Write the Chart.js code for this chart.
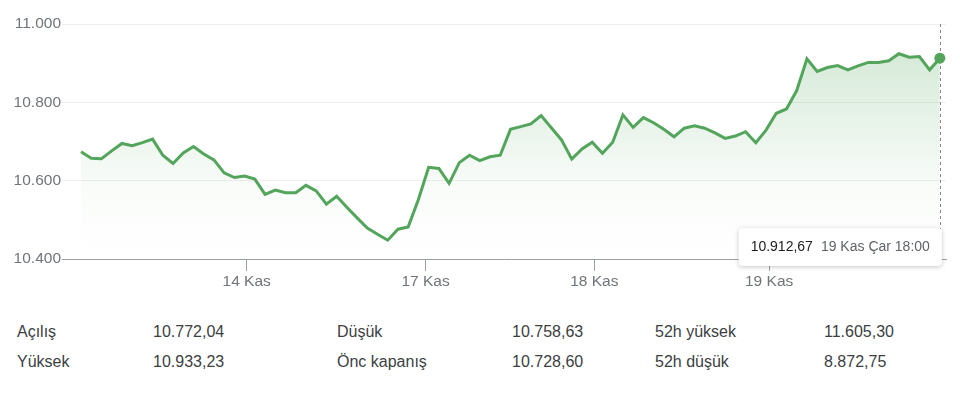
<!DOCTYPE html>
<html lang="tr">
<head>
<meta charset="utf-8">
<script src="https://cdn.jsdelivr.net/npm/chart.js@4.4.1/dist/chart.umd.min.js"></script>
<style>
  body { margin: 0; background: #fff; font-family: "Liberation Sans", Arial, Helvetica, sans-serif; }
  #wrap { position: absolute; left: 0; top: 0; width: 960px; height: 300px; }
  .cell { position: absolute; font-size: 16px; line-height: 20px; color: #3c4043; white-space: nowrap; }
</style>
</head>
<body>
<div id="wrap"><canvas id="chart"></canvas></div>
<div id="stats"></div>
<script>
// hourly closes, 13-19 Kas
const prices = [
  10674, 10657, 10656, 10676, 10695, 10689, 10697, 10706, 10665, 10644,
  10671, 10687, 10668, 10653, 10620, 10608, 10612, 10604, 10565, 10576,
  10569, 10569, 10588, 10574, 10540, 10560, 10532, 10505, 10479, 10463,
  10448, 10476, 10482, 10552, 10634, 10631, 10593, 10646, 10665, 10651,
  10661, 10665, 10731, 10738, 10745, 10766, 10735, 10704, 10655, 10681,
  10698, 10670, 10698, 10768, 10736, 10761, 10748, 10731, 10712, 10734,
  10740, 10734, 10722, 10708, 10714, 10725, 10697, 10729, 10772, 10783,
  10830, 10911, 10879, 10889, 10894, 10883, 10893, 10902, 10902, 10906,
  10924, 10915, 10917, 10883, 10912.67
];
const dayLabels = ['14 Kas', '17 Kas', '18 Kas', '19 Kas'];
const dayTickPos = [16.2, 33.7, 50.2, 67.3];
const yTicks = [10400, 10600, 10800, 11000];
const lastLabel = '19 Kas Çar 18:00';

const statLabels = [['Açılış', 'Yüksek'], ['Düşük', 'Önc kapanış'], ['52h yüksek', '52h düşük']];
const statValues = [['10.772,04', '10.933,23'], ['10.758,63', '10.728,60'], ['11.605,30', '8.872,75']];

const green = '#52a55b';
const font = '"Liberation Sans", Arial, Helvetica, sans-serif';

function fmt(v, dec) {
  const parts = v.toFixed(dec).split('.');
  parts[0] = parts[0].replace(/\B(?=(\d{3})+(?!\d))/g, '.');
  return parts.join(',');
}

// dashed marker line behind the last point, tooltip box on top
const endMarker = {
  id: 'endMarker',
  beforeDatasetsDraw(chart) {
    const {ctx, chartArea} = chart;
    const pt = chart.getDatasetMeta(0).data[prices.length - 1];
    ctx.save();
    ctx.strokeStyle = '#80868b';
    ctx.lineWidth = 1;
    ctx.setLineDash([3, 3]);
    ctx.beginPath();
    ctx.moveTo(Math.round(pt.x) + 0.5, chartArea.top);
    ctx.lineTo(Math.round(pt.x) + 0.5, chartArea.bottom);
    ctx.stroke();
    ctx.restore();
  },
  afterDraw(chart) {
    const {ctx} = chart;
    const pt = chart.getDatasetMeta(0).data[prices.length - 1];
    const t1 = fmt(prices[prices.length - 1], 2);
    ctx.save();
    ctx.font = '14px ' + font;
    const w1 = ctx.measureText(t1).width;
    const w2 = ctx.measureText(lastLabel).width;
    const w = 12 + w1 + 8 + w2 + 12;
    const right = pt.x + 2, left = right - w, top = 228, h = 38;
    ctx.shadowColor = 'rgba(60,64,67,0.3)';
    ctx.shadowBlur = 4;
    ctx.shadowOffsetY = 1;
    ctx.fillStyle = '#fff';
    ctx.beginPath();
    ctx.roundRect(left, top, w, h, 4);
    ctx.fill();
    ctx.shadowColor = 'transparent';
    ctx.textBaseline = 'middle';
    ctx.fillStyle = '#202124';
    ctx.fillText(t1, left + 12, top + h / 2);
    ctx.fillStyle = '#5f6368';
    ctx.fillText(lastLabel, left + 12 + w1 + 8, top + h / 2);
    ctx.restore();
  }
};

new Chart(document.getElementById('chart'), {
  type: 'line',
  data: {
    datasets: [{
      data: prices.map((v, i) => ({x: i, y: v})),
      borderColor: green,
      borderWidth: 3,
      tension: 0,
      fill: 'start',
      backgroundColor(c) {
        const a = c.chart.chartArea;
        if (!a) return 'transparent';
        const g = c.chart.ctx.createLinearGradient(0, a.top, 0, a.bottom);
        g.addColorStop(0, 'rgba(82,165,91,0.28)');
        g.addColorStop(0.7, 'rgba(82,165,91,0.03)');
        g.addColorStop(1, 'rgba(82,165,91,0)');
        return g;
      },
      pointRadius: c => c.dataIndex === prices.length - 1 ? 5.5 : 0,
      pointBackgroundColor: green,
      pointBorderWidth: 0
    }]
  },
  options: {
    responsive: true,
    maintainAspectRatio: false,
    animation: false,
    events: [],
    layout: {padding: {top: 24, right: 14, left: 0, bottom: 0}},
    plugins: {legend: {display: false}, tooltip: {enabled: false}},
    scales: {
      x: {
        type: 'linear',
        min: -1.86,
        max: 84.6,
        afterFit(s) { s.height = 41; },
        afterBuildTicks(s) { s.ticks = dayTickPos.map(v => ({value: v})); },
        ticks: {
          autoSkip: false,
          maxRotation: 0,
          padding: 1,
          color: '#70757a',
          font: {family: font, size: 15.5},
          callback: v => dayLabels[dayTickPos.indexOf(v)]
        },
        grid: {drawOnChartArea: false, drawTicks: true, tickLength: 12, color: '#9aa0a6'},
        border: {display: true, color: '#9aa0a6', width: 1}
      },
      y: {
        min: 10400,
        max: 11000,
        afterFit(s) { s.width = 62; },
        afterBuildTicks(s) { s.ticks = yTicks.map(v => ({value: v})); },
        ticks: {
          padding: 1,
          color: '#70757a',
          font: {family: font, size: 15.5},
          callback: v => fmt(v, 0)
        },
        grid: {drawTicks: false, color: '#eeeeee'},
        border: {display: false}
      }
    }
  },
  plugins: [endMarker]
});

// stats table below the chart
const colX = [[17, 153], [337, 512], [655, 824]];
const rowY = [322, 352];
const stats = document.getElementById('stats');
statLabels.forEach((col, c) => {
  col.forEach((lab, r) => {
    [[lab, colX[c][0]], [statValues[c][r], colX[c][1]]].forEach(([txt, x]) => {
      const d = document.createElement('div');
      d.className = 'cell';
      d.style.left = x + 'px';
      d.style.top = rowY[r] + 'px';
      d.textContent = txt;
      stats.appendChild(d);
    });
  });
});
</script>
</body>
</html>
